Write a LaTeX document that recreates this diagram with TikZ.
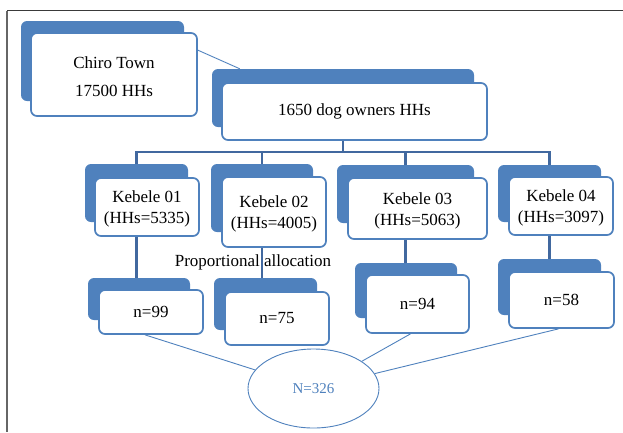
\documentclass[tikz,border=0pt]{standalone}
\usepackage{fontspec}
\setmainfont{Liberation Serif}
\usetikzlibrary{calc,shapes.geometric}
\definecolor{offblue}{HTML}{4F81BD}
\definecolor{treeblue}{HTML}{41689F}
\definecolor{framegray}{HTML}{3A3A3A}
\newcommand{\topstrut}{\rule{0pt}{16.5pt}}
\tikzset{
  backbox/.style={rectangle, fill=offblue, draw=none, rounded corners=6pt, inner sep=0pt},
  frontbox/.style={rectangle, fill=white, draw=offblue, line width=1.7pt, rounded corners=6pt, inner sep=0pt, align=center, font=\fontsize{17}{21}\selectfont},
  treeline/.style={draw=treeblue, line width=2.2pt},
  thinline/.style={draw=offblue, line width=0.9pt},
}
\begin{document}
\begin{tikzpicture}[x=1pt,y=-1pt]
\useasboundingbox (0,0) rectangle (623,432);
% frame
\draw[framegray, line width=1.5pt] (7,10.5) -- (623,10.5);
\draw[gray!80!black, line width=1.5pt] (7,10.5) -- (7,432);

% back boxes
\node[backbox, minimum width=163pt, minimum height=80pt] (chb) at (102.5,61) {};
\node[backbox, minimum width=262pt, minimum height=58pt] (topb) at (343,98) {};
\node[backbox, minimum width=103pt, minimum height=58pt] (k1b) at (136.5,193) {};
\node[backbox, minimum width=102pt, minimum height=68pt] (k2b) at (262,198) {};
\node[backbox, minimum width=137pt, minimum height=58pt] (k3b) at (405.5,194) {};
\node[backbox, minimum width=103pt, minimum height=57pt] (k4b) at (549.5,193.5) {};
\node[backbox, minimum width=102pt, minimum height=42pt] (n1b) at (139,299) {};
\node[backbox, minimum width=103pt, minimum height=52pt] (n2b) at (265.5,304) {};
\node[backbox, minimum width=102pt, minimum height=55pt] (n3b) at (406,290.5) {};
\node[backbox, minimum width=103pt, minimum height=56pt] (n4b) at (549.5,287) {};

% tree connectors
\coordinate (bar) at (343,152);
\draw[treeline] (topb.south) -- (bar);
\draw[treeline] (bar) -| (k1b.north);
\draw[treeline] (bar) -| (k2b.north);
\draw[treeline] (bar) -| (k3b.north);
\draw[treeline] (bar) -| (k4b.north);
\draw[treeline] (k1b.south) -- (k1b.south |- n1b.north);
\draw[treeline] (k2b.south) -- (k2b.south |- n2b.north);
\draw[treeline] (k3b.south) -- (k3b.south |- n3b.north);
\draw[treeline] (k4b.south) -- (k4b.south |- n4b.north);

% front boxes
\node[frontbox, minimum width=166pt, minimum height=83pt, font=\fontsize{17}{28}\selectfont] (ch) at (114,74.5) {\topstrut Chiro Town\\17500 HHs};
\node[frontbox, minimum width=265pt, minimum height=57pt] (top) at (354.5,111.5) {1650 dog owners HHs};
\node[frontbox, minimum width=104pt, minimum height=58pt] (k1) at (147,207) {\topstrut Kebele 01\\(HHs=5335)};
\node[frontbox, minimum width=104pt, minimum height=70pt] (k2) at (274,212) {\topstrut Kebele 02\\(HHs=4005)};
\node[frontbox, minimum width=139pt, minimum height=61pt] (k3) at (417.5,208.5) {\topstrut Kebele 03\\(HHs=5063)};
\node[frontbox, minimum width=104pt, minimum height=58pt] (k4) at (561,206) {\topstrut Kebele 04\\(HHs=3097)};
\node[frontbox, minimum width=104pt, minimum height=44pt] (n1) at (151,312) {n=99};
\node[frontbox, minimum width=104pt, minimum height=53pt] (n2) at (277,318.5) {n=75};
\node[frontbox, minimum width=103pt, minimum height=58pt] (n3) at (417.5,304) {n=94};
\node[frontbox, minimum width=105pt, minimum height=56pt] (n4) at (561.5,300) {n=58};

% label
\node[font=\fontsize{17}{21}\selectfont, inner sep=0pt] (prop) at (253,262) {Proportional allocation};

% Chiro connector
\coordinate (chout) at ($(ch.north east)+(0,18)$);
\coordinate (topin) at ($(topb.north west)+(28,0)$);
\draw[thinline] (chout) -- (topin);

% ellipse
\node[ellipse, draw=offblue, line width=0.9pt, fill=white, minimum width=131pt, minimum height=79pt, inner sep=0pt, text=offblue, font=\fontsize{15}{18}\selectfont] (tot) at (313.5,388.5) {N=326};
\draw[thinline] ([xshift=-6pt]n1.south) -- (tot);
\draw[thinline] ([xshift=-7pt]n3.south) -- (tot);
\draw[thinline] ([xshift=-3pt]n4.south) -- (tot);
\end{tikzpicture}
\end{document}
